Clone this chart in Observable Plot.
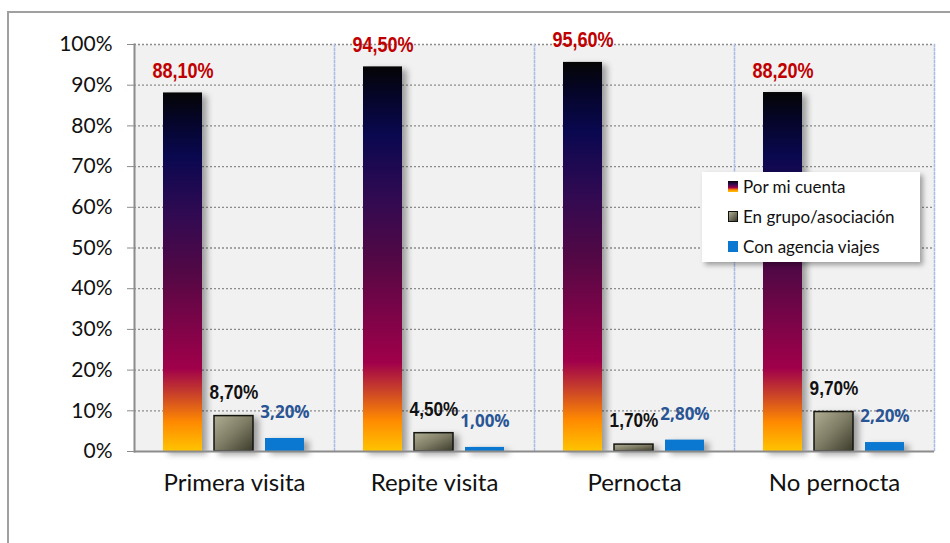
<!DOCTYPE html>
<html>
<head>
<meta charset="utf-8">
<script src="https://cdn.jsdelivr.net/npm/d3@7"></script>
<script src="https://cdn.jsdelivr.net/npm/@observablehq/plot@0.6"></script>
<style>
  html, body { margin: 0; padding: 0; background: #fff; overflow: hidden; }
  #wrap { position: relative; width: 950px; height: 543px; overflow: hidden; }
  #border { position: absolute; left: 7px; top: 11px; width: 980px; height: 580px; border: 2px solid #a0a0a0; box-sizing: border-box; }
  #chart { position: absolute; left: 0; top: 0; }
  #chart svg g[aria-label="bar"] rect { filter: drop-shadow(5px 3px 3px rgba(0,0,0,0.35)); }
  #legend { position: absolute; left: 702px; top: 172px; width: 218px; height: 90px; background: #fff;
    box-shadow: 3px 3px 5px rgba(0,0,0,0.35); font-family: Lato, "Open Sans", sans-serif; font-size: 17px; color: #111; }
  .item { position: absolute; left: 26px; display: flex; align-items: center; }
  .sw { width: 10px; height: 11px; margin-right: 5px; }
</style>
</head>
<body>
<div id="wrap">
  <div id="border"></div>
  <div id="chart"></div>
  <div id="legend"></div>
</div>
<script>
const categories = ["Primera visita", "Repite visita", "Pernocta", "No pernocta"];
const series = ["Por mi cuenta", "En grupo/asociación", "Con agencia viajes"];
const porMiCuenta = [88.1, 94.5, 95.6, 88.2];
const enGrupo = [8.7, 4.5, 1.7, 9.7];
const conAgencia = [3.2, 1.0, 2.8, 2.2];
const yTicks = [0, 10, 20, 30, 40, 50, 60, 70, 80, 90, 100];

const valuesBySeries = [porMiCuenta, enGrupo, conAgencia];
const rows = (i) => categories.map((c, j) => ({cat: c, series: series[i], value: valuesBySeries[i][j]}));
const s1 = rows(0), s2 = rows(1), s3 = rows(2);
const fmt = (v) => v.toFixed(2).replace(".", ",") + "%";

const arialLike = '"Liberation Sans", Arial, sans-serif';
const calib = 'Lato, "Open Sans", sans-serif';
const boldFace = '"Open Sans", "Noto Sans", sans-serif';

const chart = Plot.plot({
  width: 950,
  height: 543,
  marginLeft: 132,
  marginRight: 15,
  marginTop: 44,
  marginBottom: 92,
  style: {background: "transparent", fontFamily: calib},
  fx: {domain: categories, padding: 0, label: null},
  x: {domain: series, paddingInner: 0.2308, paddingOuter: 0.5457, axis: null},
  y: {domain: [0, 100], label: null},
  marks: [
    Plot.frame({fill: "#f1f1f1"}),
    Plot.gridY(yTicks.filter(d => d > 0), {stroke: "#8c8c8c", strokeOpacity: 1, strokeDasharray: "2,2", strokeWidth: 1.3}),
    Plot.frame({anchor: "right", stroke: "#a8bde6", strokeDasharray: "2,2", strokeWidth: 1.5}),
    Plot.barY(s1, {fx: "cat", x: "series", y: "value", fill: "url(#gradA)"}),
    Plot.barY(s2, {fx: "cat", x: "series", y: "value", fill: "url(#gradB)", stroke: "#151510", strokeWidth: 1.5}),
    Plot.barY(s3, {fx: "cat", x: "series", y: "value", fill: "#0a78d0"}),
    Plot.ruleY([0], {stroke: "#8c8c8c", strokeWidth: 2}),
    Plot.axisY(yTicks, {tickFormat: d => d + "%", tickSize: 7, tickPadding: 15, stroke: "#8c8c8c", fontSize: 21, fill: "#111", label: null}),
    Plot.frame({anchor: "left", facetAnchor: "left", stroke: "#8c8c8c", strokeWidth: 2}),
    Plot.axisFx({anchor: "bottom", tickSize: 0, tickPadding: 22, fontSize: 24, fill: "#111", label: null}),
    Plot.text(s1, {fx: "cat", x: "series", y: "value", text: d => fmt(d.value), dy: -22, fill: "#c00000", fontWeight: "bold", fontSize: 22, fontFamily: arialLike}),
    Plot.text(s2, {fx: "cat", x: "series", y: "value", text: d => fmt(d.value), dy: -24, fill: "#111", fontWeight: "bold", fontSize: 21, fontFamily: arialLike}),
    Plot.text(s3, {fx: "cat", x: "series", y: "value", text: d => fmt(d.value), dy: -26, fill: "#2a5595", fontWeight: "bold", fontSize: 17, fontFamily: boldFace})
  ]
});

// gradients
const svg = d3.select(chart);
const defs = svg.insert("defs", ":first-child");
const gA = defs.append("linearGradient").attr("id", "gradA").attr("x1", 0).attr("y1", 1).attr("x2", 0).attr("y2", 0);
[[0, "#ffc400"], [0.08, "#ff8a00"], [0.16, "#c8402a"], [0.23, "#a0004a"], [0.5, "#520845"], [0.66, "#300a52"], [0.82, "#0a0850"], [0.92, "#05052a"], [1, "#050505"]]
  .forEach(([o, c]) => gA.append("stop").attr("offset", o).attr("stop-color", c));
const gB = defs.append("linearGradient").attr("id", "gradB").attr("x1", 0).attr("y1", 0).attr("x2", 1).attr("y2", 1);
[[0, "#b0ae94"], [0.5, "#7e7c64"], [1, "#3c3b2c"]]
  .forEach(([o, c]) => gB.append("stop").attr("offset", o).attr("stop-color", c));

document.getElementById("chart").appendChild(chart);

// condense the Arial-like value labels to an Arial Narrow look
chart.querySelectorAll("text").forEach((t) => {
  const g = t.closest("g");
  const fam = (g && g.getAttribute("font-family")) || t.getAttribute("font-family") || "";
  if (fam.indexOf("Liberation Sans") >= 0) {
    const w = t.getComputedTextLength();
    t.setAttribute("textLength", (w * 0.82).toFixed(1));
    t.setAttribute("lengthAdjust", "spacingAndGlyphs");
  }
});

// legend
const legendSwatches = [
  "linear-gradient(to top, #ffc400 0%, #ff8a00 20%, #a0004a 40%, #300a52 70%, #050505 100%)",
  "linear-gradient(135deg, #b0ae94, #3c3b2c)",
  "#0a78d0"
];
const legend = document.getElementById("legend");
series.forEach((s, i) => {
  const it = document.createElement("div");
  it.className = "item";
  it.style.top = (4 + i * 30) + "px";
  const sw = document.createElement("div");
  sw.className = "sw";
  sw.style.background = legendSwatches[i];
  if (i === 1) { sw.style.border = "1.5px solid #111"; sw.style.boxSizing = "border-box"; }
  const tx = document.createElement("span");
  tx.textContent = s;
  it.appendChild(sw); it.appendChild(tx);
  legend.appendChild(it);
});
</script>
</body>
</html>
